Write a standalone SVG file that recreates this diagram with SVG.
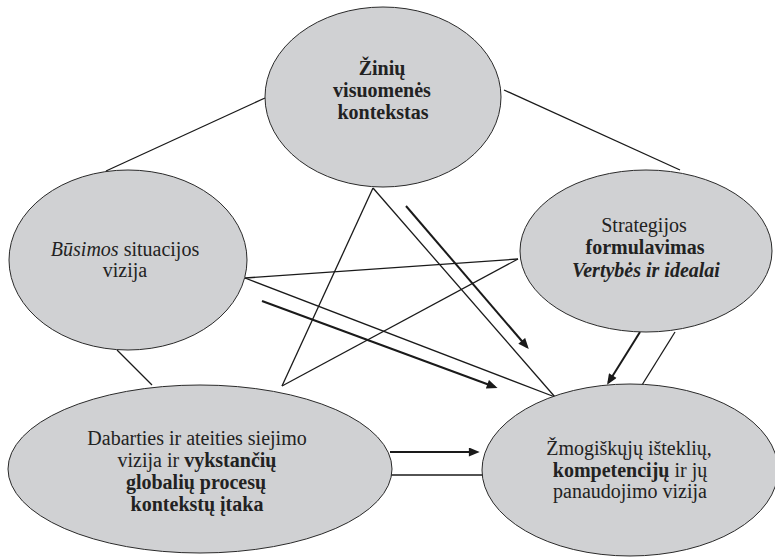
<svg xmlns="http://www.w3.org/2000/svg" width="775" height="559" viewBox="0 0 775 559">
<style>
.node ellipse{fill:#d0d1d3;stroke:#2a2a2a;stroke-width:1}
.node text{font-family:'Liberation Serif','Times New Roman','DejaVu Serif',serif;font-size:20px;fill:#222;text-anchor:middle}
.b{font-weight:bold}
.i{font-style:italic}
.ln{stroke:#1a1a1a;stroke-width:1.3;fill:none}
.ar{stroke:#1a1a1a;stroke-width:2;fill:none;marker-end:url(#ah)}
</style>
<defs>
<marker id="ah" viewBox="0 0 12 10" refX="9" refY="5" markerWidth="12" markerHeight="9" markerUnits="userSpaceOnUse" orient="auto">
<path d="M0,0 L12,5 L0,10 Z" fill="#1a1a1a"/>
</marker>
</defs>
<g id="connectors">
<line class="ln" x1="265" y1="98" x2="106" y2="171"/>
<line class="ln" x1="504" y1="90" x2="680" y2="170"/>
<line class="ln" x1="117" y1="350" x2="152" y2="385"/>
<line class="ln" x1="373" y1="188" x2="282" y2="386"/>
<line class="ln" x1="373" y1="188" x2="555" y2="397"/>
<line class="ln" x1="245" y1="278" x2="518" y2="259"/>
<line class="ln" x1="245" y1="278" x2="555" y2="397"/>
<line class="ln" x1="282" y1="386" x2="518" y2="259"/>
<line class="ar" x1="406" y1="206" x2="527" y2="347"/>
<line class="ar" x1="262" y1="301" x2="495" y2="387"/>
<line class="ar" x1="640" y1="332" x2="608.5" y2="382.5"/>
<line class="ln" x1="675" y1="332" x2="642" y2="385"/>
<line class="ar" x1="390" y1="452" x2="477" y2="452"/>
<line class="ln" x1="390" y1="475" x2="483" y2="475"/>
</g>
<g id="node-zinios" class="node">
<ellipse cx="383" cy="97" rx="118" ry="90"/>
<text x="382" y="75" class="b">Žinių</text>
<text x="382" y="97" class="b">visuomenės</text>
<text x="383" y="119" class="b">kontekstas</text>
</g>
<g id="node-busimos" class="node">
<ellipse cx="128" cy="260" rx="119" ry="90"/>
<text x="125" y="256"><tspan class="i">Būsimos</tspan> situacijos</text>
<text x="125" y="277">vizija</text>
</g>
<g id="node-strategija" class="node">
<ellipse cx="646" cy="251" rx="126" ry="81"/>
<text x="644" y="232">Strategijos</text>
<text x="645" y="254" class="b">formulavimas</text>
<text x="646" y="277" class="b i">Vertybės ir idealai</text>
</g>
<g id="node-dabarties" class="node">
<ellipse cx="200" cy="469" rx="192" ry="84"/>
<text x="197" y="445">Dabarties ir ateities siejimo</text>
<text x="197" y="467">vizija ir <tspan class="b">vykstančių</tspan></text>
<text x="196" y="489" class="b">globalių procesų</text>
<text x="197" y="511" class="b">kontekstų įtaka</text>
</g>
<g id="node-zmogiskuju" class="node">
<ellipse cx="630" cy="470" rx="148" ry="86"/>
<text x="629" y="455">Žmogiškųjų išteklių,</text>
<text x="630" y="477"><tspan class="b">kompetencijų</tspan> ir jų</text>
<text x="630" y="498">panaudojimo vizija</text>
</g>
</svg>
